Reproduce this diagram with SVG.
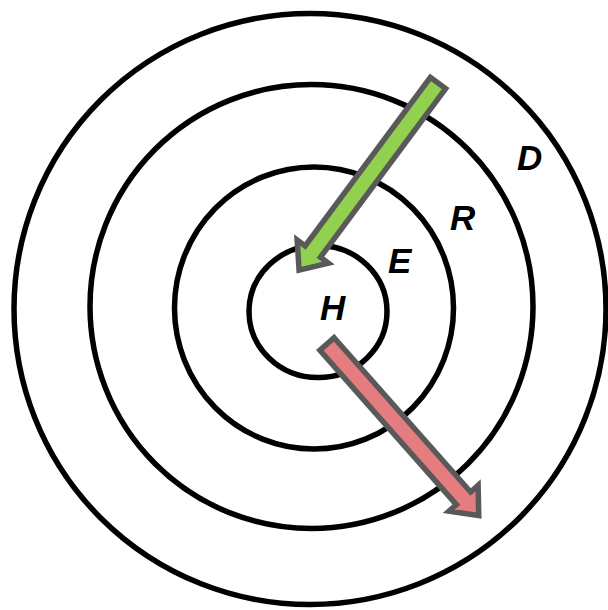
<svg xmlns="http://www.w3.org/2000/svg" width="608" height="610" viewBox="0 0 608 610">
<style>
.ring{fill:none;stroke:#000;stroke-width:5.5}
.lbl{font-family:"Liberation Sans",Arial,sans-serif;font-weight:bold;font-style:italic;font-size:35px;fill:#000}
.arr{stroke:#595959;stroke-width:5.5;stroke-linejoin:miter}
</style>
<rect width="608" height="610" fill="#fff"/>
<g id="ring-D"><ellipse class="ring" cx="310" cy="309" rx="296" ry="295.5"/><text class="lbl" x="517" y="170">D</text></g>
<g id="ring-R"><ellipse class="ring" cx="311.5" cy="306.5" rx="221.5" ry="222"/><text class="lbl" x="450" y="230">R</text></g>
<g id="ring-E"><ellipse class="ring" cx="314" cy="308" rx="139.5" ry="141"/><text class="lbl" x="388" y="273">E</text></g>
<g id="ring-H"><ellipse class="ring" cx="318" cy="311.5" rx="69" ry="66"/><text class="lbl" x="320" y="320">H</text></g>
<g id="connectors">
<polygon class="arr" fill="#92D050" transform="translate(438,83) rotate(126.6)" points="0,-9.5 210,-9.5 210,-19.5 233,0 210,19.5 210,9.5 0,9.5"/>
<polygon class="arr" fill="#E47C80" transform="translate(327,344) rotate(48.5)" points="0,-9.5 206,-9.5 206,-19.5 229,0 206,19.5 206,9.5 0,9.5"/>
</g>
</svg>
